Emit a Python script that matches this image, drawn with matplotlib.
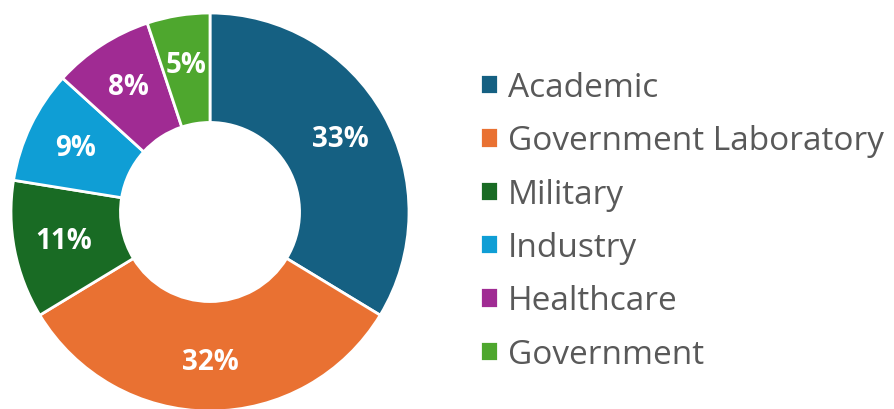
import matplotlib.pyplot as plt

# sector shares (percent)
sectors = ['Academic', 'Government Laboratory', 'Military', 'Industry',
           'Healthcare', 'Government']
shares = [33, 32, 11, 9, 8, 5]
colors = ['#156082', '#E97132', '#196B24', '#0F9ED5', '#A02B93', '#4EA72E']

plt.rcParams['font.family'] = ['Open Sans', 'DejaVu Sans']

fig = plt.figure(figsize=(8.94, 4.10), dpi=100)
ax = fig.add_axes([11 / 894, -2 / 410, 398 / 894, 398 / 410])

labels_iter = iter(shares)
wedges, texts, autotexts = ax.pie(
    shares, colors=colors, startangle=90, counterclock=False,
    radius=1.0, pctdistance=0.75,
    autopct=lambda p: '%d%%' % next(labels_iter),
    wedgeprops=dict(width=0.55, edgecolor='white', linewidth=2),
    textprops=dict(color='white', fontsize=20, fontweight='bold'))
ax.set_xlim(-1, 1)
ax.set_ylim(-1, 1)
ax.set_aspect('equal')

fig.legend(wedges, sectors, loc='center left', bbox_to_anchor=(0.518, 0.459),
           frameon=False, fontsize=24, labelcolor='#595959',
           handlelength=0.55, handleheight=0.55, handletextpad=0.3,
           labelspacing=0.61, borderpad=0)

fig.savefig('out.png', dpi=100)
